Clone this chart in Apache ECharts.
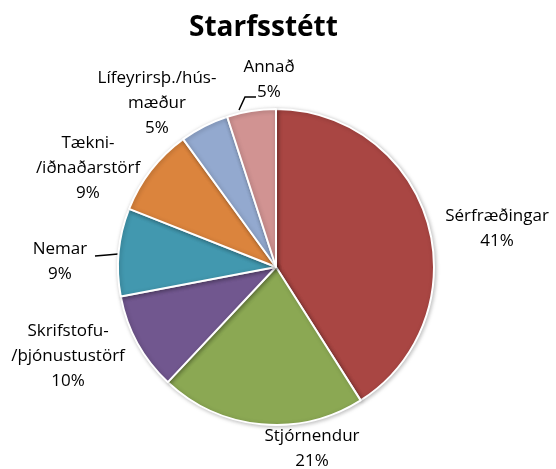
<!DOCTYPE html>
<html>
<head>
<meta charset="utf-8">
<script src="https://cdn.jsdelivr.net/npm/echarts@6/dist/echarts.min.js"></script>
<style>
  html, body { margin: 0; padding: 0; background: #fff; }
  #main { width: 556px; height: 469px; }
</style>
</head>
<body>
<div id="main"></div>
<script>
// gögn
var categories = ['Sérfræðingar', 'Stjórnendur', 'Skrifstofu-\n/þjónustustörf', 'Nemar', 'Tækni-\n/iðnaðarstörf', 'Lífeyrirsþ./hús-\nmæður', 'Annað'];
var values = [41, 21, 10, 9, 9, 5, 5];
var colors = ['#A94643', '#8BA853', '#71578F', '#4298AF', '#DB843D', '#93A9CF', '#D19392'];

// staðsetning merkja (miðja) og leiðarlínur
var labelPos = [[497, 229], [312, 449], [68, 356], [60, 262], [88, 168], [157, 103], [269, 80]];
var linePts = {
  3: [[118, 254], [107, 255], [95, 256]],
  6: [[239, 110], [245, 97], [256, 97]]
};

var chart = echarts.init(document.getElementById('main'));

var option = {
  title: {
    text: 'Starfsstétt',
    left: 184,
    top: 9,
    textStyle: {
      fontFamily: 'Open Sans',
      fontWeight: 'bold',
      fontSize: 28,
      color: '#000'
    }
  },
  animation: false,
  series: [{
    type: 'pie',
    center: [276, 267],
    radius: 158,
    startAngle: 90,
    clockwise: true,
    itemStyle: {
      borderColor: '#fff',
      borderWidth: 2,
      shadowBlur: 4,
      shadowColor: 'rgba(0,0,0,0.25)',
      shadowOffsetX: 1,
      shadowOffsetY: 1
    },
    label: {
      show: true,
      position: 'outside',
      overflow: 'none',
      formatter: function (p) {
        return p.name + '\n' + p.value + '%';
      },
      fontFamily: 'Open Sans',
      fontSize: 17,
      lineHeight: 25,
      color: '#000',
      align: 'center'
    },
    labelLine: {
      lineStyle: { color: '#000', width: 1.5 },
      length: 8,
      length2: 10
    },
    labelLayout: function (p) {
      var pos = labelPos[p.dataIndex];
      var res = { x: pos[0], y: pos[1], align: 'center', verticalAlign: 'middle' };
      if (linePts[p.dataIndex]) res.labelLinePoints = linePts[p.dataIndex];
      return res;
    },
    data: categories.map(function (c, i) {
      return {
        name: c,
        value: values[i],
        itemStyle: { color: colors[i] },
        labelLine: { show: !!linePts[i] }
      };
    })
  }]
};

chart.setOption(option);
</script>
</body>
</html>
